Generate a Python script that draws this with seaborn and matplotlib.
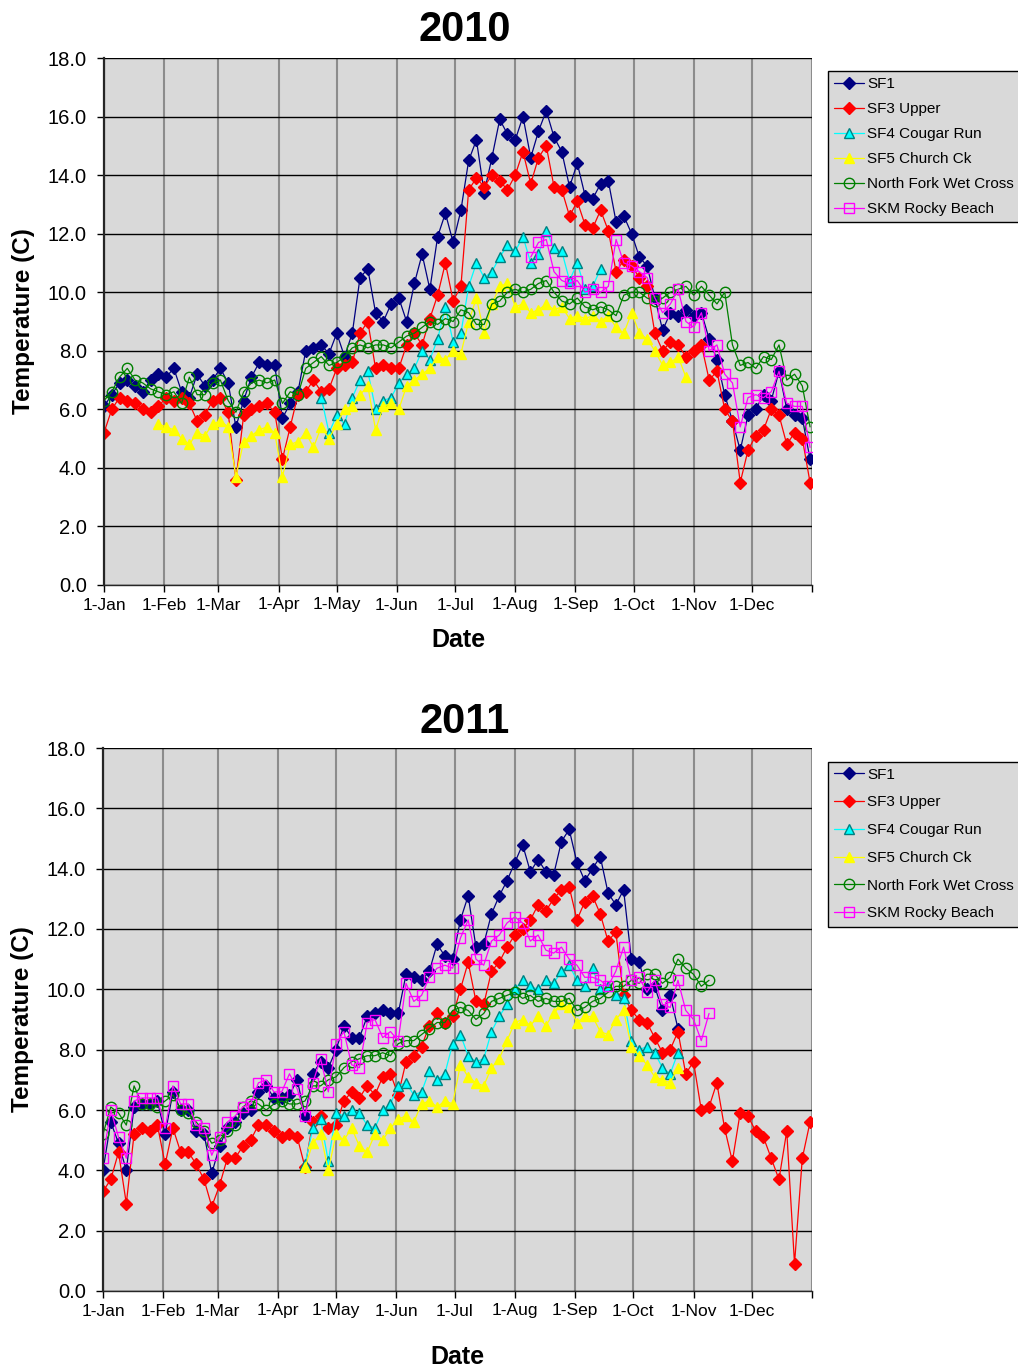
import numpy as np
import pandas as pd
import matplotlib
matplotlib.use('Agg')
import matplotlib.pyplot as plt
import seaborn as sns

# water temperature, one value every 4 days,
# each series starting at the day-of-year given in the start lists
sf1_2010 = [6.1, 6.5, 6.9, 7.0, 6.8, 6.6, 7.0, 7.2, 7.1, 7.4,
            6.6, 6.4, 7.2, 6.8, 7.0, 7.4, 6.9, 5.4, 6.3, 7.1,
            7.6, 7.5, 7.5, 5.7, 6.2, 6.6, 8.0, 8.1, 8.2, 7.9,
            8.6, 7.8, 8.6, 10.5, 10.8, 9.3, 9.0, 9.6, 9.8, 9.0,
            10.3, 11.3, 10.1, 11.9, 12.7, 11.7, 12.8, 14.5, 15.2, 13.4,
            14.6, 15.9, 15.4, 15.2, 16.0, 14.6, 15.5, 16.2, 15.3, 14.8,
            13.6, 14.4, 13.3, 13.2, 13.7, 13.8, 12.4, 12.6, 12.0, 11.2,
            10.9, 9.8, 8.7, 9.3, 9.2, 9.4, 9.2, 9.3, 8.4, 7.7,
            6.5, 5.6, 4.6, 5.8, 6.0, 6.5, 6.3, 7.3, 6.0, 5.8,
            5.7, 4.3]
sf3_2010 = [5.2, 6.0, 6.4, 6.3, 6.2, 6.0, 5.9, 6.1, 6.4, 6.3,
            6.4, 6.2, 5.6, 5.8, 6.3, 6.4, 5.9, 3.6, 5.8, 6.0,
            6.1, 6.2, 5.9, 4.3, 5.4, 6.5, 6.6, 7.0, 6.6, 6.7,
            7.4, 7.5, 7.6, 8.6, 9.0, 7.4, 7.5, 7.4, 7.4, 8.2,
            8.6, 8.2, 9.1, 9.9, 11.0, 9.7, 10.2, 13.5, 13.9, 13.6,
            14.0, 13.8, 13.5, 14.0, 14.8, 13.7, 14.6, 15.0, 13.6, 13.5,
            12.6, 13.1, 12.3, 12.2, 12.8, 12.1, 10.7, 11.1, 10.9, 10.5,
            10.2, 8.6, 8.0, 8.3, 8.2, 7.8, 8.0, 8.2, 7.0, 7.3,
            6.0, 5.6, 3.5, 4.6, 5.1, 5.3, 6.0, 5.8, 4.8, 5.2,
            5.0, 3.5]
sf4_2010 = [6.4, 5.2, 5.8, 5.5, 6.4, 7.0, 7.3, 6.0, 6.3, 6.4,
            6.9, 7.2, 7.4, 8.0, 7.7, 8.4, 9.5, 8.3, 8.6, 10.2,
            11.0, 10.5, 10.7, 11.2, 11.6, 11.4, 11.9, 11.0, 11.3, 12.1,
            11.5, 11.4, 10.4, 11.0, 10.1, 10.2, 10.8]
sf5_2010 = [5.5, 5.4, 5.3, 5.0, 4.8, 5.2, 5.1, 5.5, 5.6, 5.4,
            3.7, 4.9, 5.1, 5.3, 5.4, 5.2, 3.7, 4.8, 4.9, 5.2,
            4.7, 5.4, 5.0, 5.5, 6.0, 6.1, 6.5, 6.8, 5.3, 6.1,
            6.2, 6.0, 6.8, 7.0, 7.2, 7.4, 7.8, 7.7, 8.0, 7.9,
            9.0, 9.8, 8.6, 9.6, 10.2, 10.3, 9.5, 9.6, 9.3, 9.4,
            9.6, 9.4, 9.5, 9.1, 9.2, 9.1, 9.2, 9.0, 9.2, 8.8,
            8.6, 9.3, 8.6, 8.4, 8.0, 7.5, 7.6, 7.8, 7.1]
nf_2010 = [6.3, 6.6, 7.1, 7.4, 7.0, 6.9, 6.7, 6.6, 6.5, 6.6,
           6.2, 7.1, 6.5, 6.5, 6.9, 7.0, 6.3, 5.9, 6.6, 6.9,
           7.0, 6.9, 7.0, 6.2, 6.6, 6.5, 7.4, 7.6, 7.8, 7.5,
           7.6, 7.8, 8.1, 8.2, 8.1, 8.2, 8.2, 8.1, 8.3, 8.5,
           8.6, 8.8, 9.0, 8.9, 9.1, 9.0, 9.4, 9.3, 8.9, 8.9,
           9.6, 9.7, 10.0, 10.1, 10.0, 10.1, 10.3, 10.4, 10.0, 9.7,
           9.6, 9.8, 9.5, 9.4, 9.5, 9.4, 9.2, 9.9, 10.0, 10.0,
           9.8, 9.7, 9.8, 10.0, 10.1, 10.2, 9.9, 10.2, 9.9, 9.6,
           10.0, 8.2, 7.5, 7.6, 7.4, 7.8, 7.7, 8.2, 7.0, 7.2,
           6.8, 5.4]
skm_2010 = [11.2, 11.7, 11.8, 10.7, 10.4, 10.3, 10.4, 10.0, 10.1, 10.0,
            10.2, 11.8, 11.0, 10.9, 10.7, 10.5, 9.8, 9.3, 9.6, 10.1,
            9.0, 8.8, 9.3, 8.0, 8.2, 7.2, 6.9, 5.4, 6.4, 6.5,
            6.4, 6.6, 7.3, 6.2, 6.1, 6.1, 4.7]

sf1_2011 = [4.0, 5.6, 4.9, 4.0, 6.1, 6.2, 6.2, 6.3, 5.2, 6.6,
            6.0, 6.0, 5.3, 5.2, 3.9, 4.8, 5.4, 5.6, 5.9, 6.0,
            6.6, 6.8, 6.4, 6.4, 6.5, 7.0, 5.8, 7.2, 7.6, 7.4,
            8.0, 8.8, 8.4, 8.4, 9.1, 9.2, 9.3, 9.2, 9.2, 10.5,
            10.4, 10.3, 10.6, 11.5, 11.1, 11.0, 12.3, 13.1, 11.4, 11.5,
            12.5, 13.1, 13.6, 14.2, 14.8, 13.9, 14.3, 13.9, 13.8, 14.9,
            15.3, 14.2, 13.6, 14.0, 14.4, 13.2, 12.8, 13.3, 11.0, 10.9,
            10.0, 10.1, 9.3, 9.8, 8.7]
sf3_2011 = [3.3, 3.7, 4.6, 2.9, 5.2, 5.4, 5.3, 5.5, 4.2, 5.4,
            4.6, 4.6, 4.2, 3.7, 2.8, 3.5, 4.4, 4.4, 4.8, 5.0,
            5.5, 5.5, 5.3, 5.1, 5.2, 5.1, 4.1, 5.6, 5.8, 5.4,
            5.5, 6.3, 6.6, 6.4, 6.8, 6.5, 7.1, 7.2, 6.5, 7.6,
            7.8, 8.1, 8.8, 9.2, 8.9, 9.1, 10.0, 10.9, 9.6, 9.5,
            10.6, 10.9, 11.4, 11.8, 12.0, 12.3, 12.8, 12.6, 13.0, 13.3,
            13.4, 12.3, 12.9, 13.1, 12.5, 11.6, 11.9, 9.8, 9.3, 9.0,
            8.9, 8.4, 7.9, 8.0, 8.6, 7.2, 7.6, 6.0, 6.1, 6.9,
            5.4, 4.3, 5.9, 5.8, 5.3, 5.1, 4.4, 3.7, 5.3, 0.9,
            4.4, 5.6]
sf4_2011 = [4.2, 5.4, 5.7, 4.3, 5.9, 5.8, 6.0, 5.9, 5.5, 5.4,
            6.0, 6.2, 6.8, 6.9, 6.5, 6.6, 7.3, 7.0, 7.2, 8.2,
            8.5, 7.8, 7.6, 7.7, 8.6, 9.1, 9.5, 10.0, 10.3, 10.1,
            10.0, 10.3, 10.2, 10.6, 10.8, 10.3, 10.1, 10.7, 10.0, 10.1,
            9.8, 9.7, 8.3, 8.0, 8.1, 7.9, 7.4, 7.2, 7.9]
sf5_2011 = [4.1, 4.9, 5.2, 4.0, 5.2, 5.0, 5.4, 4.8, 4.6, 5.2,
            5.0, 5.4, 5.7, 5.8, 5.6, 6.2, 6.3, 6.1, 6.3, 6.2,
            7.5, 7.1, 6.9, 6.8, 7.4, 7.7, 8.3, 8.9, 9.0, 8.8,
            9.1, 8.8, 9.2, 9.5, 9.4, 8.9, 9.1, 9.1, 8.6, 8.5,
            9.0, 9.3, 8.1, 7.8, 7.5, 7.1, 7.0, 6.9, 7.4]
nf_2011 = [5.2, 6.1, 5.9, 5.5, 6.8, 6.2, 6.2, 6.1, 6.3, 6.5,
           6.0, 5.9, 5.6, 5.3, 4.9, 5.0, 5.3, 5.5, 6.1, 6.3,
           6.2, 6.0, 6.2, 6.3, 6.2, 6.2, 6.3, 6.8, 6.8, 7.0,
           7.1, 7.4, 7.6, 7.7, 7.8, 7.8, 7.9, 7.8, 8.2, 8.3,
           8.3, 8.5, 8.7, 8.9, 8.9, 9.3, 9.4, 9.3, 9.0, 9.2,
           9.6, 9.7, 9.8, 9.9, 9.7, 9.8, 9.6, 9.7, 9.6, 9.6,
           9.7, 9.3, 9.4, 9.6, 9.7, 9.9, 10.1, 10.1, 10.3, 10.2,
           10.5, 10.5, 10.2, 10.4, 11.0, 10.7, 10.5, 10.1, 10.3]
skm_2011 = [4.4, 6.0, 5.1, 4.4, 6.3, 6.4, 6.4, 6.4, 5.4, 6.8,
            6.2, 6.2, 5.5, 5.4, 4.5, 5.1, 5.6, 5.8, 6.1, 6.2,
            6.9, 7.0, 6.6, 6.6, 7.2, 6.7, 5.8, 6.9, 7.7, 6.6,
            8.2, 8.6, 7.5, 7.4, 8.9, 9.0, 8.4, 8.6, 8.3, 10.2,
            9.6, 9.8, 10.4, 10.7, 10.8, 10.7, 11.7, 12.3, 11.0, 10.8,
            11.6, 11.8, 12.2, 12.4, 12.2, 11.6, 11.8, 11.3, 11.2, 11.4,
            11.0, 10.8, 10.4, 10.4, 10.3, 10.1, 10.6, 11.4, 10.3, 10.4,
            9.9, 10.3, 9.5, 9.4, 10.3, 9.3, 9.0, 8.3, 9.2]

series_names = ['SF1', 'SF3 Upper', 'SF4 Cougar Run', 'SF5 Church Ck',
                'North Fork Wet Cross', 'SKM Rocky Beach']
start_2010 = [0, 0, 112, 28, 0, 220]
start_2011 = [0, 0, 104, 104, 0, 0]
month_labels = ['1-Jan', '1-Feb', '1-Mar', '1-Apr', '1-May', '1-Jun', '1-Jul',
                '1-Aug', '1-Sep', '1-Oct', '1-Nov', '1-Dec', '']
y_ticks = np.arange(0, 19, 2)

styles = {
    'SF1': dict(color='#000080', marker='D', markersize=6.5,
                markerfacecolor='#000080', markeredgecolor='#000080'),
    'SF3 Upper': dict(color='#ff0000', marker='D', markersize=6.5,
                      markerfacecolor='#ff0000', markeredgecolor='#ff0000'),
    'SF4 Cougar Run': dict(color='#00ffff', marker='^', markersize=7.5,
                           markerfacecolor='#00ffff', markeredgecolor='#008080'),
    'SF5 Church Ck': dict(color='#ffff00', marker='^', markersize=7.5,
                          markerfacecolor='#ffff00', markeredgecolor='#ffff00'),
    'North Fork Wet Cross': dict(color='#008000', marker='o', markersize=7.5,
                                 markerfacecolor='none', markeredgecolor='#008000'),
    'SKM Rocky Beach': dict(color='#ff00ff', marker='s', markersize=7,
                            markerfacecolor='none', markeredgecolor='#ff00ff'),
}

sns.set_style('ticks')
plt.rcParams['font.family'] = ['Liberation Sans', 'DejaVu Sans']
plt.rcParams['text.color'] = 'black'
plt.rcParams['axes.labelcolor'] = 'black'
plt.rcParams['xtick.color'] = 'black'
plt.rcParams['ytick.color'] = 'black'


def draw_panel(ax, year, data, starts, title_pad, xlabel_pad, spacing):
    for name, vals, start in zip(series_names, data, starts):
        dates = pd.date_range(f'{year}-01-01', periods=len(vals), freq='4D') + pd.Timedelta(days=start)
        sns.lineplot(x=dates, y=vals, ax=ax, linewidth=0.9, markeredgewidth=1.0,
                     label=name, **styles[name])

    ax.set_facecolor('#d9d9d9')
    ax.set_xlim(pd.Timestamp(f'{year}-01-01'), pd.Timestamp(f'{year + 1}-01-01'))
    ax.set_ylim(0, 18)
    ticks = pd.date_range(f'{year}-01-01', f'{year + 1}-01-01', freq='MS')
    ax.set_xticks(ticks)
    ax.set_xticklabels(month_labels)
    ax.set_yticks(y_ticks)
    ax.set_yticklabels([f'{v:.1f}' for v in y_ticks])

    ax.set_axisbelow(True)
    ax.grid(axis='y', color='black', linewidth=1.0)
    ax.grid(axis='x', color='#8c8c8c', linewidth=1.5)
    for s in ['top', 'right']:
        ax.spines[s].set_visible(False)
    ax.spines['left'].set_linewidth(1.6)
    ax.spines['bottom'].set_linewidth(1.0)
    ax.tick_params(axis='x', labelsize=12.5, length=5, width=1, pad=4)
    ax.tick_params(axis='y', labelsize=14.5, length=5, width=1, pad=7.5)

    ax.set_title(str(year), fontsize=30, fontweight='bold', pad=title_pad, x=0.51)
    ax.set_xlabel('Date', fontsize=18, fontweight='bold', labelpad=xlabel_pad)
    ax.set_ylabel('Temperature (C)', fontsize=17.5, fontweight='bold', labelpad=9)

    leg = ax.legend(loc='upper left', bbox_to_anchor=(1.022, 0.975), frameon=True,
                    fancybox=False, edgecolor='black', facecolor='#d9d9d9',
                    framealpha=1, fontsize=11, handlelength=2.0, handletextpad=0.2,
                    borderpad=0.4, labelspacing=spacing, borderaxespad=0)
    leg.get_frame().set_linewidth(1.0)


fig = plt.figure(figsize=(10.18, 13.7), dpi=100)
ax1 = fig.add_axes([104 / 1018, 1 - 585 / 1370, 708 / 1018, 527 / 1370])
ax2 = fig.add_axes([103 / 1018, 1 - 1291 / 1370, 709 / 1018, 543 / 1370])

draw_panel(ax1, 2010, [sf1_2010, sf3_2010, sf4_2010, sf5_2010, nf_2010, skm_2010],
           start_2010, title_pad=12, xlabel_pad=11, spacing=0.72)
draw_panel(ax2, 2011, [sf1_2011, sf3_2011, sf4_2011, sf5_2011, nf_2011, skm_2011],
           start_2011, title_pad=11, xlabel_pad=19, spacing=0.9)

fig.savefig('out.png', dpi=100)
